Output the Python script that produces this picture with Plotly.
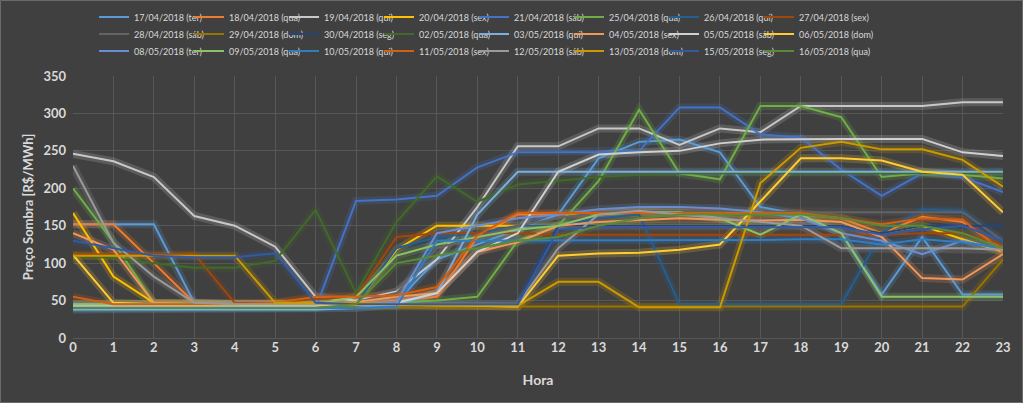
import plotly.graph_objects as go

hours = list(range(24))

labels = ["17/04/2018 (ter)", "18/04/2018 (qua)", "19/04/2018 (qui)", "20/04/2018 (sex)",
          "21/04/2018 (sáb)", "25/04/2018 (qua)", "26/04/2018 (qui)", "27/04/2018 (sex)",
          "28/04/2018 (sáb)", "29/04/2018 (dom)", "30/04/2018 (seg)", "02/05/2018 (qua)",
          "03/05/2018 (qui)", "04/05/2018 (sex)", "05/05/2018 (sáb)", "06/05/2018 (dom)",
          "08/05/2018 (ter)", "09/05/2018 (qua)", "10/05/2018 (qui)", "11/05/2018 (sex)",
          "12/05/2018 (sáb)", "13/05/2018 (dom)", "15/05/2018 (seg)", "16/05/2018 (qua)"]

d17_04 = [152, 152, 152, 47, 45, 45, 45, 45, 48, 105, 125, 145, 165, 240, 262, 265, 248, 175, 165, 140, 58, 135, 58, 58]
d18_04 = [152, 152, 100, 47, 45, 45, 45, 46, 50, 55, 135, 165, 165, 167, 168, 168, 167, 166, 165, 160, 140, 162, 155, 118]
d19_04 = [246, 236, 215, 163, 150, 122, 55, 50, 62, 105, 175, 256, 256, 280, 280, 258, 280, 275, 310, 310, 310, 310, 315, 315]
d20_04 = [167, 82, 47, 45, 45, 45, 45, 45, 118, 150, 150, 150, 151, 151, 151, 151, 151, 151, 151, 150, 140, 150, 132, 115]
d21_04 = [40, 40, 40, 40, 40, 40, 40, 183, 185, 190, 228, 248, 248, 248, 250, 308, 308, 272, 268, 225, 190, 220, 215, 195]
d25_04 = [200, 128, 47, 45, 45, 45, 45, 45, 47, 50, 55, 130, 150, 210, 305, 220, 212, 310, 310, 295, 215, 220, 218, 213]
d26_04 = [40, 40, 40, 40, 40, 40, 40, 45, 120, 135, 140, 150, 150, 160, 165, 45, 45, 45, 45, 45, 140, 172, 170, 128]
d27_04 = [112, 112, 112, 112, 47, 47, 52, 55, 135, 140, 140, 140, 138, 138, 138, 138, 138, 138, 138, 138, 138, 140, 140, 125]
d28_04 = [45, 45, 45, 45, 45, 45, 45, 48, 60, 120, 135, 150, 160, 168, 170, 170, 170, 169, 168, 168, 168, 168, 168, 130]
d29_04 = [45, 45, 45, 45, 45, 45, 45, 42, 42, 42, 42, 42, 42, 42, 42, 42, 42, 42, 42, 42, 42, 42, 42, 105]
d30_04 = [42, 42, 42, 42, 42, 42, 42, 45, 45, 45, 45, 45, 150, 150, 150, 150, 150, 150, 150, 150, 140, 150, 150, 150]
d02_05 = [110, 107, 100, 94, 94, 103, 171, 60, 155, 216, 182, 205, 210, 215, 218, 220, 220, 220, 220, 220, 220, 220, 220, 220]
d03_05 = [38, 38, 38, 38, 38, 38, 38, 40, 45, 60, 165, 222, 222, 222, 222, 222, 222, 222, 222, 222, 222, 222, 222, 222]
d04_05 = [140, 118, 47, 45, 45, 45, 45, 48, 55, 60, 115, 128, 150, 155, 158, 160, 158, 157, 158, 155, 135, 80, 78, 112]
d05_05 = [43, 43, 43, 43, 43, 43, 43, 45, 47, 60, 115, 140, 222, 245, 248, 250, 260, 265, 266, 266, 266, 266, 248, 243]
d06_05 = [111, 47, 45, 45, 45, 45, 45, 45, 45, 44, 43, 42, 110, 113, 114, 118, 125, 182, 240, 240, 237, 222, 218, 168]
d08_05 = [45, 45, 45, 45, 45, 45, 45, 46, 48, 140, 150, 160, 165, 172, 175, 175, 173, 168, 160, 140, 130, 112, 130, 118]
d09_05 = [45, 45, 45, 45, 45, 45, 45, 55, 110, 125, 135, 145, 150, 165, 168, 168, 160, 138, 165, 140, 55, 55, 55, 55]
d10_05 = [40, 40, 40, 40, 40, 40, 40, 40, 42, 130, 130, 130, 131, 131, 131, 131, 131, 131, 132, 132, 125, 132, 128, 120]
d11_05 = [55, 45, 45, 45, 45, 47, 55, 55, 57, 68, 137, 167, 167, 167, 167, 167, 167, 167, 167, 160, 152, 160, 158, 115]
d12_05 = [230, 127, 82, 47, 45, 45, 45, 45, 45, 45, 45, 45, 120, 165, 170, 165, 160, 155, 150, 120, 120, 120, 120, 118]
d13_05 = [110, 110, 110, 110, 110, 47, 47, 47, 45, 43, 43, 43, 75, 75, 41, 41, 41, 207, 254, 262, 252, 252, 238, 202]
d15_05 = [130, 120, 110, 108, 108, 113, 47, 45, 45, 45, 45, 45, 145, 148, 148, 148, 148, 148, 148, 148, 138, 145, 150, 130]
d16_05 = [40, 40, 40, 40, 40, 40, 40, 45, 100, 110, 120, 130, 135, 150, 160, 165, 165, 165, 165, 160, 150, 150, 140, 120]

series = [d17_04, d18_04, d19_04, d20_04, d21_04, d25_04, d26_04, d27_04,
          d28_04, d29_04, d30_04, d02_05, d03_05, d04_05, d05_05, d06_05,
          d08_05, d09_05, d10_05, d11_05, d12_05, d13_05, d15_05, d16_05]

colors = ["#5B9BD5", "#ED7D31", "#C8C8C8", "#FFC000", "#4472C4", "#70AD47",
          "#255E91", "#9E480E", "#636363", "#997300", "#264478", "#43682B",
          "#7CAFDD", "#F1975A", "#D0D0D0", "#FFCD33", "#698ED0", "#8CC168",
          "#327DC2", "#D26012", "#9A9A9A", "#CC9A00", "#335AA1", "#5A8A39"]

fig = go.Figure()

# soft glow underlays
for vals, col in zip(series, colors):
    fig.add_trace(go.Scatter(x=hours, y=vals, mode="lines", showlegend=False,
                             hoverinfo="skip", opacity=0.2,
                             line=dict(color=col, width=8)))

legend_ids = ["legend", "legend2", "legend3"]
for i, (lab, vals, col) in enumerate(zip(labels, series, colors)):
    fig.add_trace(go.Scatter(x=hours, y=vals, mode="lines", name=lab,
                             legend=legend_ids[i // 8],
                             line=dict(color=col, width=2)))

# invisible spacer entry at the end of each legend row (keeps last label unclipped)
for lid in legend_ids:
    fig.add_trace(go.Scatter(x=[None], y=[None], mode="lines", name=" ",
                             legend=lid, visible="legendonly", hoverinfo="skip",
                             line=dict(color="rgba(0,0,0,0)", width=0)))

W, H = 1023, 403
ml, mr, mt, mb = 73, 20, 76, 65
pw, ph = W - ml - mr, H - mt - mb


def row_y(px):
    return (H - mb - px) / ph


txt = "#D9D9D9"
font_family = "Lato, 'Open Sans', sans-serif"
leg_common = dict(orientation="h", xref="paper", yref="paper",
                  x=(94 - ml) / pw, xanchor="left", yanchor="middle",
                  bgcolor="rgba(0,0,0,0)", font=dict(size=9, color=txt, family=font_family),
                  entrywidth=50, entrywidthmode="pixels", itemwidth=30,
                  tracegroupgap=0)

fig.update_layout(
    width=W, height=H,
    margin=dict(l=ml, r=mr, t=mt, b=mb, autoexpand=False),
    paper_bgcolor="#404040", plot_bgcolor="#404040",
    font=dict(family=font_family, color=txt),
    legend=dict(**leg_common, y=row_y(17)),
    legend2=dict(**leg_common, y=row_y(34)),
    legend3=dict(**leg_common, y=row_y(51)),
    xaxis=dict(range=[0, 23], dtick=1, tick0=0, showgrid=True, gridcolor="#575757",
               gridwidth=1, zeroline=False, showline=False, ticks="",
               tickfont=dict(size=13, color=txt, family=font_family, weight="bold"),
               title=dict(text="Hora", font=dict(size=14, color=txt, family=font_family, weight="bold"),
                          standoff=21)),
    yaxis=dict(range=[0, 350], dtick=50, tick0=0, showgrid=True, gridcolor="#575757",
               gridwidth=1, zeroline=True, zerolinecolor="#575757", zerolinewidth=1,
               ticks="", ticklabelstandoff=6,
               tickfont=dict(size=13, color=txt, family=font_family, weight="bold"),
               title=dict(text="Preço Sombra [R$/MWh]",
                          font=dict(size=13, color=txt, family=font_family, weight="bold"),
                          standoff=6)),
    shapes=[dict(type="rect", xref="paper", yref="paper",
                 x0=(-ml + 0.5) / pw, x1=1 + (mr - 0.5) / pw,
                 y0=(-mb + 0.5) / ph, y1=1 + (mt - 0.5) / ph,
                 line=dict(color="#6A6A6A", width=1), layer="below")],
)

fig.write_html("out.html", config={"displayModeBar": False},
               post_script="document.body.style.margin='0';document.body.style.background='#404040';")
